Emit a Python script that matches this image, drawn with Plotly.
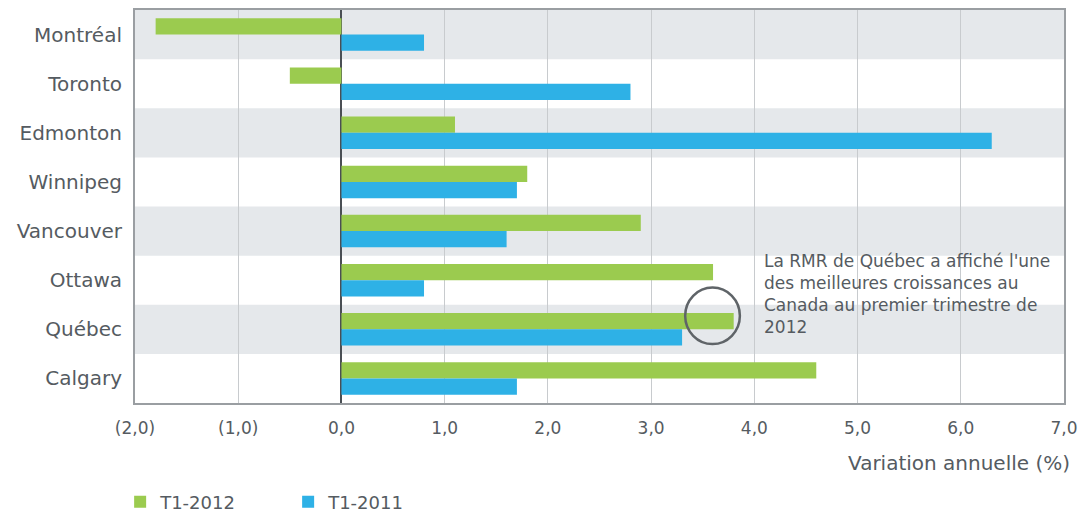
import plotly.graph_objects as go

cities = ["Montréal", "Toronto", "Edmonton", "Winnipeg", "Vancouver", "Ottawa", "Québec", "Calgary"]
t1_2012 = [-1.8, -0.5, 1.1, 1.8, 2.9, 3.6, 3.8, 4.6]
t1_2011 = [0.8, 2.8, 6.3, 1.7, 1.6, 0.8, 3.3, 1.7]
tick_vals = [-2, -1, 0, 1, 2, 3, 4, 5, 6, 7]
tick_text = ["(2,0)", "(1,0)", "0,0", "1,0", "2,0", "3,0", "4,0", "5,0", "6,0", "7,0"]
note = "La RMR de Québec a affiché l'une<br>des meilleures croissances au<br>Canada au premier trimestre de<br>2012"

GREEN = "#9BCB4F"
BLUE = "#2EB1E6"
TXT = "#555B61"
FONT = "DejaVu Sans"

fig = go.Figure()
fig.add_trace(go.Bar(y=cities, x=t1_2012, orientation="h", name="T1-2012",
                     marker=dict(color=GREEN, line=dict(width=0))))
fig.add_trace(go.Bar(y=cities, x=t1_2011, orientation="h", name="T1-2011",
                     marker=dict(color=BLUE, line=dict(width=0))))

shapes = []
for i in range(len(cities)):
    if i % 2 == 0:
        shapes.append(dict(type="rect", xref="paper", yref="y", x0=0, x1=1,
                           y0=i - 0.5, y1=i + 0.5, fillcolor="#E5E8EB",
                           line=dict(width=0), layer="below"))
shapes.append(dict(type="circle", xref="x", yref="y", x0=3.33, x1=3.86,
                   y0=5.15, y1=6.30, line=dict(color="#5F6468", width=2.5)))
fig.update_layout(shapes=shapes)

fig.update_layout(
    width=1078, height=514,
    margin=dict(l=135, r=14, t=10, b=111, autoexpand=False),
    plot_bgcolor="rgba(0,0,0,0)", paper_bgcolor="white",
    barmode="group", bargap=0.34, bargroupgap=0.0,
    font=dict(family=FONT, color=TXT, size=17),
    showlegend=True,
    legend=dict(orientation="h", x=-0.016, xanchor="left", y=-0.252, yanchor="middle",
                font=dict(size=18, color=TXT), itemwidth=30, traceorder="normal",
                entrywidthmode="pixels", entrywidth=123),
    xaxis=dict(range=[-2, 7], tickvals=tick_vals, ticktext=tick_text,
               showgrid=True, gridcolor="#C8CBCE", gridwidth=1,
               zeroline=True, zerolinecolor="#4A4F54", zerolinewidth=2,
               showline=True, linecolor="#9A9EA2", linewidth=2, mirror=True,
               ticks="", tickfont=dict(size=17, color=TXT), ticklabelstandoff=9,
               ticklabeloverflow="allow"),
    yaxis=dict(autorange="reversed", showgrid=False, showline=True,
               linecolor="#9A9EA2", linewidth=2, mirror=True, ticks="",
               tickfont=dict(size=20, color=TXT), ticklabelstandoff=7),
    annotations=[
        dict(text="Variation annuelle (%)", xref="paper", yref="paper", x=1.009, y=-0.118,
             xanchor="right", yanchor="top", showarrow=False, font=dict(size=20, color=TXT)),
        dict(text=note, xref="x", yref="y", x=4.07, y=4.37, xanchor="left", yanchor="top",
             align="left", showarrow=False, font=dict(size=17, color=TXT)),
    ],
)

fig.write_html("out.html")
